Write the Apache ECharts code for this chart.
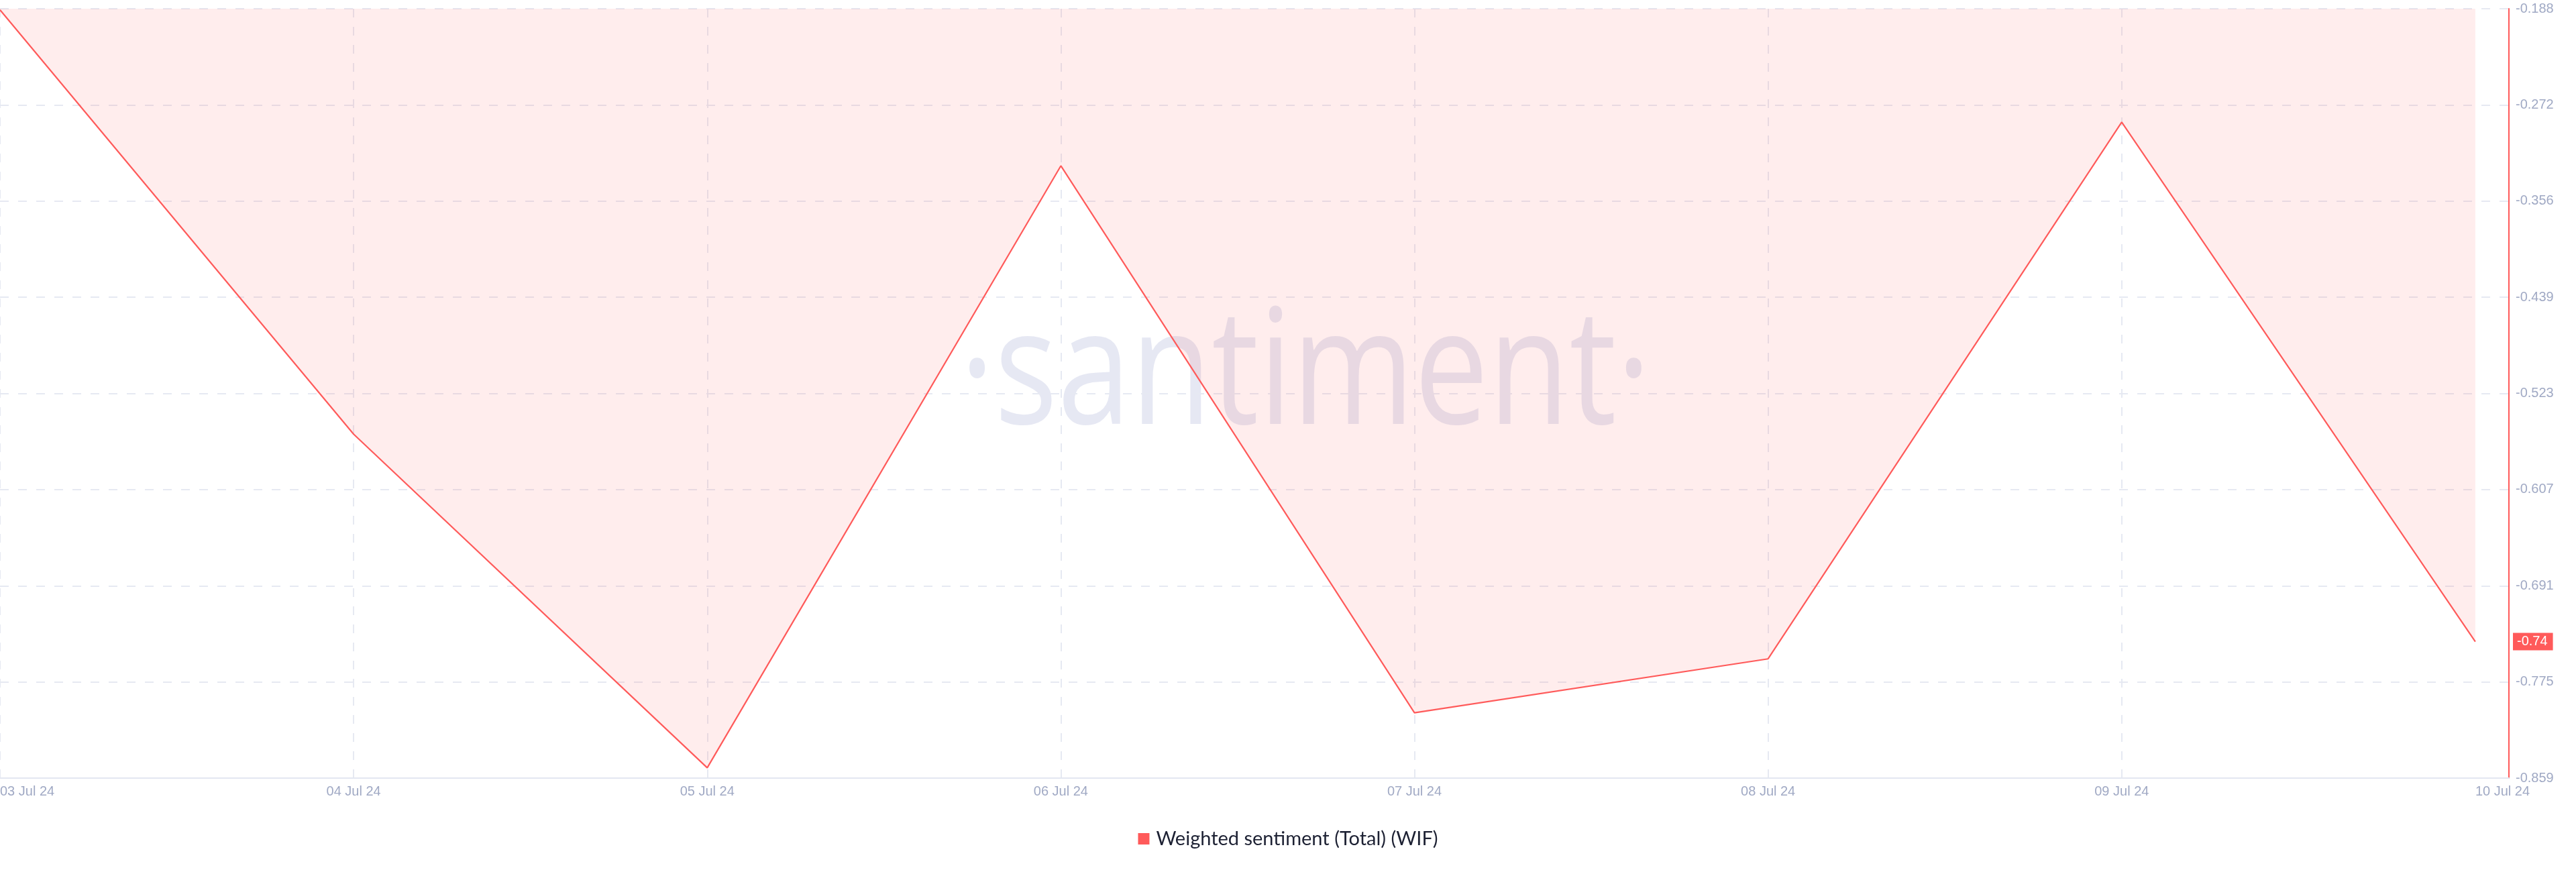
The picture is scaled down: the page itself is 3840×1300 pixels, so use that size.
<!DOCTYPE html>
<html>
<head>
<meta charset="utf-8">
<script src="https://cdn.jsdelivr.net/npm/echarts@6/dist/echarts.min.js"></script>
<style>
html,body{margin:0;padding:0;background:#fff;}
#chart{width:3840px;height:1300px;}
</style>
</head>
<body>
<div id="chart"></div>
<script>
const dates = ['03 Jul 24','04 Jul 24','05 Jul 24','06 Jul 24','07 Jul 24','08 Jul 24','09 Jul 24','10 Jul 24'];
const sentiment = [-0.189, -0.559, -0.850, -0.325, -0.802, -0.755, -0.287, -0.740];
const yTickLabels = ['-0.859','-0.775','-0.691','-0.607','-0.523','-0.439','-0.356','-0.272','-0.188'];
const seriesName = 'Weighted sentiment (Total) (WIF)';

const yMin = -0.859, yMax = -0.188;
const yStep = (yMax - yMin) / 8;
const xMax = 7.095;
const RED = '#ff5a5a';

const chart = echarts.init(document.getElementById('chart'), null, {renderer:'canvas'});
chart.setOption({
  backgroundColor: '#ffffff',
  animation: false,
  grid: { left: 0, right: 100, top: 13, bottom: 140, outerBoundsMode: 'none', containLabel: false },
  graphic: [{
    type: 'text',
    x: 1946, y: 444,
    scaleX: 0.82,
    z: -10,
    silent: true,
    style: {
      text: '·santiment·',
      font: '400 240px "Open Sans"',
      fill: 'rgba(140,150,200,0.22)',
      textAlign: 'center'
    }
  }],
  legend: {
    top: 1231,
    left: 'center',
    itemWidth: 17,
    itemHeight: 17,
    icon: 'rect',
    itemGap: 20,
    textStyle: { color: '#1d2133', fontSize: 29, fontFamily: 'Lato', padding: [0, 0, 0, 5] },
    data: [{ name: seriesName, itemStyle: { color: RED } }]
  },
  xAxis: {
    type: 'value',
    min: 0,
    max: xMax,
    interval: 1,
    axisLine: { show: true, onZero: false, lineStyle: { color: '#e3e7f1', width: 2 } },
    axisTick: { show: false, customValues: [0,1,2,3,4,5,6] },
    splitLine: { show: true, lineStyle: { color: '#e6e9f2', width: 2, type: [13, 14] } },
    axisLabel: {
      customValues: dates.map((d, i) => i),
      formatter: (v) => dates[Math.round(v)] || '',
      color: '#a0a9c4',
      fontSize: 20,
      fontFamily: 'Arial, Liberation Sans, sans-serif',
      margin: 10,
      alignMinLabel: 'left',
      alignMaxLabel: 'left'
    }
  },
  yAxis: {
    type: 'value',
    position: 'right',
    min: yMin,
    max: yMax,
    interval: yStep,
    axisLine: { show: true, onZero: false, lineStyle: { color: RED, width: 2 } },
    axisTick: { show: false },
    splitLine: { show: true, lineStyle: { color: '#e6e9f2', width: 2, type: [13, 14] } },
    axisLabel: {
      formatter: (v) => yTickLabels[Math.round((v - yMin) / yStep)] || '',
      color: '#a0a9c4',
      fontSize: 20,
      fontFamily: 'Arial, Liberation Sans, sans-serif',
      margin: 10
    }
  },
  series: [{
    name: seriesName,
    type: 'line',
    symbol: 'none',
    data: dates.map((d, i) => [i, sentiment[i]]),
    lineStyle: { color: RED, width: 2.2 },
    itemStyle: { color: RED },
    areaStyle: { origin: 'end', color: 'rgba(255,91,91,0.155)' },
    z: 2,
    markLine: {
      silent: true,
      symbol: 'none',
      lineStyle: { color: 'rgba(0,0,0,0)', width: 1, type: 'solid' },
      data: [{ yAxis: sentiment[sentiment.length - 1] }],
      label: {
        show: true,
        position: 'end',
        distance: 6,
        formatter: (p) => Number(p.value).toFixed(2),
        color: '#ffffff',
        backgroundColor: RED,
        fontSize: 20,
        fontFamily: 'Arial, Liberation Sans, sans-serif',
        padding: [3, 8, 3, 6]
      }
    }
  }]
});
</script>
</body>
</html>
